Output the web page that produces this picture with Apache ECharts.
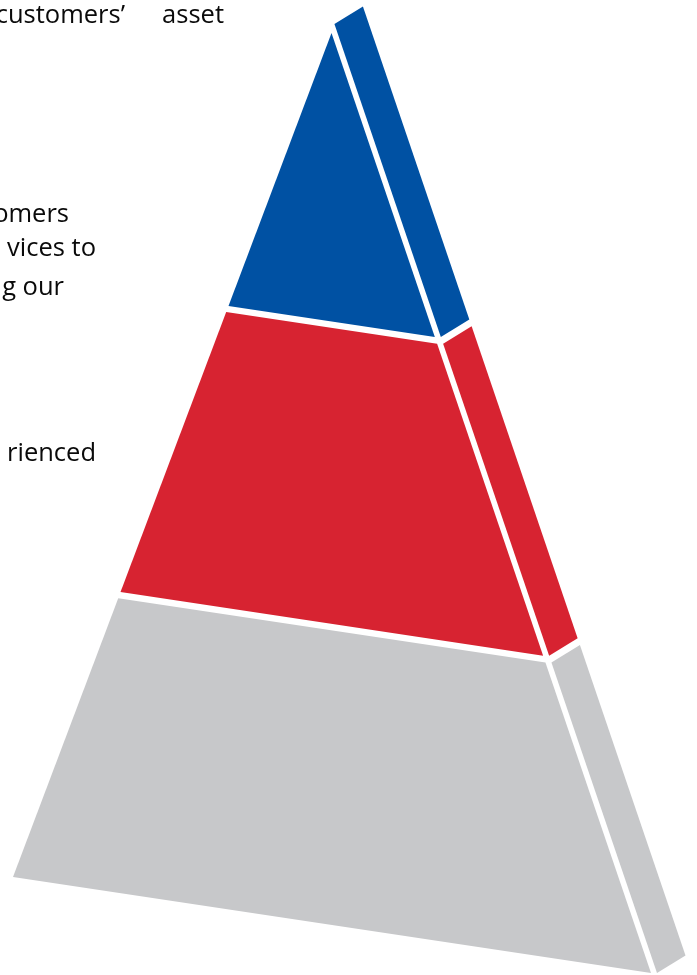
<!DOCTYPE html>
<html>
<head>
<meta charset="utf-8">
<style>
  html, body { margin: 0; padding: 0; background: #ffffff; }
  #chart { width: 697px; height: 975px; }
</style>
<script src="https://cdn.jsdelivr.net/npm/echarts@6/dist/echarts.min.js"></script>
</head>
<body>
<div id="chart"></div>
<script>
// ---------- data ----------
const tierNames = ['Top tier', 'Middle tier', 'Base tier'];
const tierShares = [32.7, 33.9, 33.4];          // share of the pyramid height (%)
const textFragments = ['customers\u2019', 'asset', 'omers', 'vices to', 'g our', 'rienced'];

// ---------- layout / style ----------
const tierColors = ['#0051A3', '#D72331', '#C7C8CA'];
const apex = [331.5, 33], baseLeft = [13, 877], baseRight = [651, 973];
const sideOffset = [6, 0], depth = [28.5, -17.5], sideTop = -0.0096;
const gap = 0.0072;
const textPos = [[125, 23], [224, 23], [69, 222], [96, 256], [64, 295], [96, 461]];
const fontSize = 25.5;

// ---------- build ----------
const total = tierShares.reduce((a, b) => a + b, 0);
let cum = 0;
const tierData = tierShares.map((v, i) => {
  const t0 = cum / total; cum += v; const t1 = cum / total;
  return { name: tierNames[i], value: [i, t0, t1, v] };
});

function lerp(p, q, t) { return [p[0] + (q[0] - p[0]) * t, p[1] + (q[1] - p[1]) * t]; }
function add(p, q) { return [p[0] + q[0], p[1] + q[1]]; }

const chart = echarts.init(document.getElementById('chart'), null, { renderer: 'canvas' });
chart.setOption({
  backgroundColor: '#ffffff',
  animation: false,
  grid: { left: 0, right: 0, top: 0, bottom: 0 },
  xAxis: { type: 'value', min: 0, max: 697, show: false },
  yAxis: { type: 'value', min: 0, max: 975, inverse: true, show: false },
  series: [{
    type: 'custom',
    clip: false,
    data: tierData,
    encode: { x: 1, y: 2 },
    renderItem: function (params, api) {
      const i = api.value(0), t0 = api.value(1), t1 = api.value(2);
      const first = i === 0, last = i === tierShares.length - 1;
      const a = first ? 0 : t0 + gap / 2;
      const b = last ? 1 : t1 - gap / 2;
      const front = [lerp(apex, baseLeft, a), lerp(apex, baseRight, a),
                     lerp(apex, baseRight, b), lerp(apex, baseLeft, b)];
      const sOrigin = add(apex, sideOffset);
      const sEnd = add(baseRight, sideOffset);
      const sa = first ? sideTop : a;
      const pA = lerp(sOrigin, sEnd, sa), pB = lerp(sOrigin, sEnd, b);
      const side = [pA, add(pA, depth), add(pB, depth), pB];
      const color = tierColors[i];
      return {
        type: 'group',
        children: [
          { type: 'polygon', shape: { points: front.map(p => api.coord(p)) }, style: { fill: color } },
          { type: 'polygon', shape: { points: side.map(p => api.coord(p)) }, style: { fill: color } }
        ]
      };
    }
  }],
  graphic: textFragments.map((t, k) => ({
    type: 'text',
    x: textPos[k][0],
    y: textPos[k][1] - 0.3 * fontSize,
    style: {
      text: t,
      font: fontSize + 'px "Open Sans"',
      fill: '#0a0a0a',
      align: 'right',
      verticalAlign: 'middle'
    }
  }))
});
</script>
</body>
</html>
